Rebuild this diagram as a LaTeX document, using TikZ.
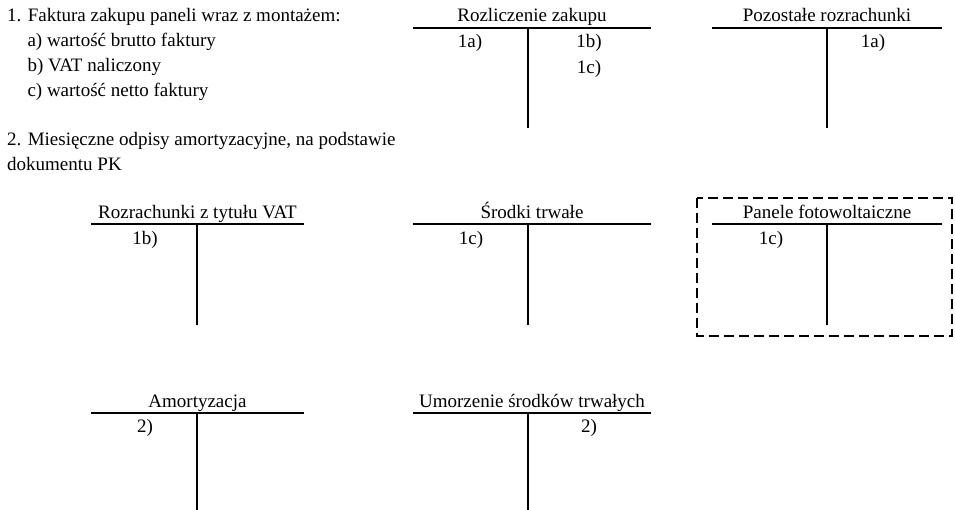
\documentclass[tikz,border=0pt]{standalone}
\usepackage{fontspec}
\setmainfont{Liberation Serif}
\usetikzlibrary{positioning}
\begin{document}
\begin{tikzpicture}
                [x=1pt, y=-1pt,
                font=\fontsize{19}{24.7}\selectfont,
                dsty/.style={anchor=base west, inner sep=0pt},
                tsty/.style={anchor=base, inner sep=0pt},
                esty/.style={anchor=base, inner sep=0pt},
                lsty/.style={line width=2pt},
                bsty/.style={line width=2.5pt, dash pattern=on 10pt off 5pt}]
                \useasboundingbox (0,0) rectangle (955,510);
                % operations
                \node[dsty] (op1)  at (7,21.7)    {1. Faktura zakupu paneli wraz z montażem:};
                \node[dsty] (op1a) at (27.3,46.7) {a) wartość brutto faktury};
                \node[dsty] (op1b) at (27.3,71.4) {b) VAT naliczony};
                \node[dsty] (op1c) at (27.3,96.1) {c) wartość netto faktury};
                \node[dsty] (op2)  at (7,146)     {2. Miesięczne odpisy amortyzacyjne, na podstawie};
                \node[dsty] (op2b) at (7,170.7)   {dokumentu PK};
                % accounts, row 1
                \node[tsty] (rz) at (532,22) {Rozliczenie zakupu};
                \draw[lsty] (413,27.6) -- (651,27.6);
                \draw[lsty] (528,27.6) -- (528,128);
                \node[esty] (rz-1a) at (470,47.8) {1a)};
                \node[esty] (rz-1b) at (589,47.8) {1b)};
                \node[esty] (rz-1c) at (589,74)   {1c)};
                \node[tsty] (pr) at (827,22) {Pozostałe rozrachunki};
                \draw[lsty] (712,27.6) -- (942,27.6);
                \draw[lsty] (827,27.6) -- (827,128);
                \node[esty] (pr-1a) at (873,47.8) {1a)};
                % accounts, row 2
                \node[tsty] (vat) at (197.5,219) {Rozrachunki z tytułu VAT};
                \draw[lsty] (91,224.5) -- (304,224.5);
                \draw[lsty] (197,224.5) -- (197,325);
                \node[esty] (vat-1b) at (145,244.5) {1b)};
                \node[tsty] (st) at (532,219) {Środki trwałe};
                \draw[lsty] (413,224.5) -- (651,224.5);
                \draw[lsty] (528,224.5) -- (528,325);
                \node[esty] (st-1c) at (471,244.5) {1c)};
                \node[tsty] (pf) at (827,219) {Panele fotowoltaiczne};
                \draw[lsty] (712,224.5) -- (942,224.5);
                \draw[lsty] (827,224.5) -- (827,325);
                \node[esty] (pf-1c) at (771,244.5) {1c)};
                \draw[bsty] (697,198) rectangle (952,336);
                % accounts, row 3
                \node[tsty] (am) at (197.5,407.2) {Amortyzacja};
                \draw[lsty] (91,412.7) -- (304,412.7);
                \draw[lsty] (197,412.7) -- (197,510);
                \node[esty] (am-2) at (145,432.7) {2)};
                \node[tsty] (um) at (532,407.2) {Umorzenie środków trwałych};
                \draw[lsty] (413,412.7) -- (651,412.7);
                \draw[lsty] (528,412.7) -- (528,510);
                \node[esty] (um-2) at (589,432.7) {2)};
            \end{tikzpicture}
\end{document}
